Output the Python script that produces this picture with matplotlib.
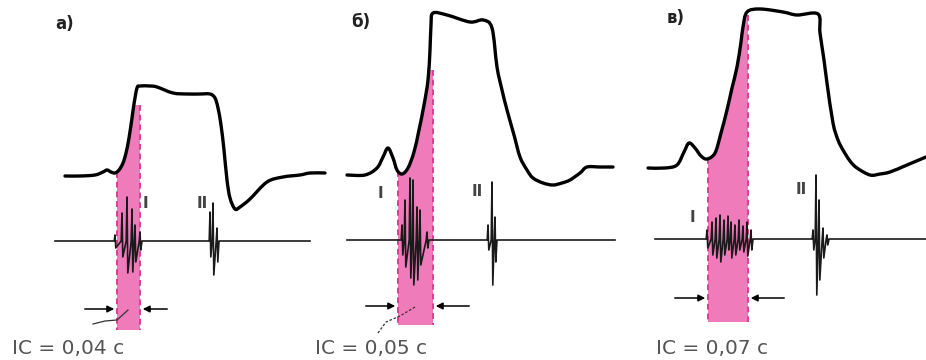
import numpy as np
import matplotlib
matplotlib.use("Agg")
import matplotlib.pyplot as plt
from matplotlib.path import Path
from matplotlib.patches import PathPatch

# ---------------- data (image pixel coordinates) ----------------
panel_labels = ["а)", "б)", "в)"]
ic_labels = ["IC = 0,04 c", "IC = 0,05 c", "IC = 0,07 c"]

# apex curves
apex_a_x = [65, 80, 95, 103, 107, 111, 115, 119, 123, 126, 129, 132, 134, 137, 140, 150, 157, 173, 187, 200, 210, 215, 218, 221, 224, 227, 230, 235, 240, 250, 267, 283, 300, 310, 325]
apex_a_y = [176, 176, 175, 172, 170, 172, 173, 170, 163, 153, 138, 118, 104, 88, 86, 86, 87, 93, 94, 94, 94, 98, 108, 125, 150, 180, 198, 209, 207, 199, 182, 177, 175, 173, 173]

apex_b_x = [347, 365, 377, 383, 388, 393, 397, 402, 408, 414, 419, 424, 428, 430, 431, 433, 447, 470, 483, 492, 497, 502, 507, 514, 520, 527, 533, 543, 553, 562, 570, 580, 587, 600, 613]
apex_b_y = [175, 175, 168, 157, 148, 158, 170, 174, 168, 152, 130, 105, 80, 50, 25, 13, 15, 22, 20, 28, 67, 90, 110, 135, 157, 170, 178, 183, 185, 183, 180, 173, 167, 167, 167]

apex_c_x = [648, 665, 677, 684, 689, 695, 701, 707, 715, 721, 727, 732, 737, 741, 743, 747, 760, 783, 797, 818, 820, 824, 827, 833, 838, 843, 850, 857, 870, 880, 890, 907, 926]
apex_c_y = [168, 168, 165, 152, 143, 148, 156, 159, 153, 133, 110, 88, 67, 42, 27, 12, 9, 12, 15, 14, 33, 60, 83, 123, 140, 150, 161, 168, 175, 174, 172, 165, 157]

# phonocardiogram baselines: (x_start, x_end, y)
phono_a = (55, 310, 241)
phono_b = (347, 615, 240)
phono_c = (655, 926, 239)

# heart-sound spikes: x, top, bottom
s1_a_x = [115, 122, 127, 132, 135, 140]
s1_a_top = [235, 213, 197, 209, 225, 232]
s1_a_bot = [248, 257, 273, 272, 262, 250]
s2_a_x = [210, 213, 217]
s2_a_top = [212, 203, 228]
s2_a_bot = [257, 275, 262]

s1_b_x = [402, 405, 410, 413, 417, 420, 427]
s1_b_top = [225, 200, 178, 180, 207, 210, 232]
s1_b_bot = [255, 267, 278, 285, 280, 265, 248]
s2_b_x = [488, 492, 495]
s2_b_top = [225, 182, 217]
s2_b_bot = [250, 285, 262]

s1_c_x = [707, 712, 716, 720, 724, 728, 731, 735, 739, 743, 747, 751]
s1_c_top = [230, 222, 218, 215, 220, 216, 222, 225, 220, 226, 222, 230]
s1_c_bot = [248, 255, 258, 262, 255, 250, 258, 255, 250, 252, 256, 250]
s2_c_x = [813, 816, 819, 823, 827]
s2_c_top = [230, 175, 200, 228, 235]
s2_c_bot = [250, 295, 280, 258, 245]

# pink bands: left x, right x, top cap, bottom
band_left = [117, 398, 708]
band_right = [140, 433, 748]
band_cap = [105, 70, 15]
band_bottom = [330, 325, 322]

# arrows: y, left start, right start
arrow_y = [309, 306, 298]
arrow_left_start = [82, 363, 672]
arrow_right_start = [170, 472, 787]

# labels I / II positions
lbl1_x = [145, 380, 692]
lbl1_y = [204, 193, 218]
lbl2_x = [202, 477, 801]
lbl2_y = [204, 191, 189]

panel_label_x = [55, 351, 667]
panel_label_y = [24, 22, 18]
ic_x = [12, 315, 656]
ic_y = [348, 349, 349]

# leader lines
leader_a_x = [93, 105, 117, 128]
leader_a_y = [324, 321, 320, 310]
leader_b_x = [378, 386, 400, 415]
leader_b_y = [333, 322, 316, 307]


def smooth_path(xs, ys, tension=0.5):
    """Catmull-Rom line through the given points, as cubic Bezier path."""
    p = np.column_stack([xs, ys]).astype(float)
    verts = [p[0]]
    codes = [Path.MOVETO]
    n = len(p)
    for i in range(n - 1):
        p0 = p[i - 1] if i > 0 else p[i]
        p1, p2 = p[i], p[i + 1]
        p3 = p[i + 2] if i + 2 < n else p[i + 1]
        c1 = p1 + (p2 - p0) * tension / 3.0
        c2 = p2 - (p3 - p1) * tension / 3.0
        verts += [c1, c2, p2]
        codes += [Path.CURVE4] * 3
    return Path(verts, codes)


# ---------------- drawing ----------------
fig = plt.figure(figsize=(9.26, 3.6), dpi=100)
ax = fig.add_axes([0, 0, 1, 1])
ax.set_xlim(0, 926)
ax.set_ylim(360, 0)
ax.axis("off")

apexes = [(apex_a_x, apex_a_y), (apex_b_x, apex_b_y), (apex_c_x, apex_c_y)]
phonos = [phono_a, phono_b, phono_c]
s1 = [(s1_a_x, s1_a_top, s1_a_bot), (s1_b_x, s1_b_top, s1_b_bot), (s1_c_x, s1_c_top, s1_c_bot)]
s2 = [(s2_a_x, s2_a_top, s2_a_bot), (s2_b_x, s2_b_top, s2_b_bot), (s2_c_x, s2_c_top, s2_c_bot)]

pink = "#ec5eab"
for i in range(3):
    cx, cy = apexes[i]
    # pink band
    bx = np.linspace(band_left[i], band_right[i], 30)
    top = np.maximum(np.interp(bx, cx, cy), band_cap[i])
    poly_x = np.concatenate([[band_left[i]], bx, [band_right[i]]])
    poly_y = np.concatenate([[band_bottom[i]], top, [band_bottom[i]]])
    ax.fill(poly_x, poly_y, color=pink, alpha=0.82, lw=0, zorder=1)
    ax.plot([band_left[i], band_left[i]], [top[0], band_bottom[i]],
            color="#d8408f", lw=1.4, ls=(0, (3, 2)), zorder=1.5)
    ax.plot([band_right[i], band_right[i]], [top[-1], band_bottom[i]],
            color="#d8408f", lw=1.4, ls=(0, (3, 2)), zorder=1.5)

    # phono baseline with bursts
    x0, x1, yb = phonos[i]
    px, py = [x0], [yb]
    for sx, st, sb in (s1[i], s2[i]):
        for k in range(len(sx)):
            px += [sx[k] - 0.8, sx[k], sx[k] + 0.8]
            py += [yb, st[k], sb[k]]
        px.append(sx[-1] + 2)
        py.append(yb)
    px.append(x1)
    py.append(yb)
    order = np.argsort(px, kind="stable")
    ax.plot(np.array(px)[order], np.array(py)[order], color="#1a1a1a", lw=1.2, zorder=2)

    # apex curve (smooth line through the read points)
    ax.add_patch(PathPatch(smooth_path(cx, cy), facecolor="none", edgecolor="black",
                           lw=2.4, capstyle="round", joinstyle="round", zorder=3))

    # arrows
    ax.annotate("", xy=(band_left[i], arrow_y[i]), xytext=(arrow_left_start[i], arrow_y[i]),
                arrowprops=dict(arrowstyle="-|>", color="black", lw=1.1, mutation_scale=10), zorder=4)
    ax.annotate("", xy=(band_right[i], arrow_y[i]), xytext=(arrow_right_start[i], arrow_y[i]),
                arrowprops=dict(arrowstyle="-|>", color="black", lw=1.1, mutation_scale=10), zorder=4)

    # labels
    ax.text(lbl1_x[i], lbl1_y[i], "I", fontsize=11, color="#444444", ha="center", va="center",
            family="DejaVu Sans", fontweight="bold")
    ax.text(lbl2_x[i], lbl2_y[i], "II", fontsize=11, color="#444444", ha="center", va="center",
            family="DejaVu Sans", fontweight="bold")
    ax.text(panel_label_x[i], panel_label_y[i], panel_labels[i], fontsize=12, fontweight="bold",
            color="#222222", ha="left", va="center", family="DejaVu Sans")
    ax.text(ic_x[i], ic_y[i], ic_labels[i], fontsize=14.5, color="#555555", ha="left", va="center",
            family="DejaVu Sans")

ax.plot(leader_a_x, leader_a_y, color="#333333", lw=0.9, zorder=4)
ax.plot(leader_b_x, leader_b_y, color="#333333", lw=0.9, ls=(0, (2, 1.5)), zorder=4)

fig.savefig("out.png", dpi=100, facecolor="white")
